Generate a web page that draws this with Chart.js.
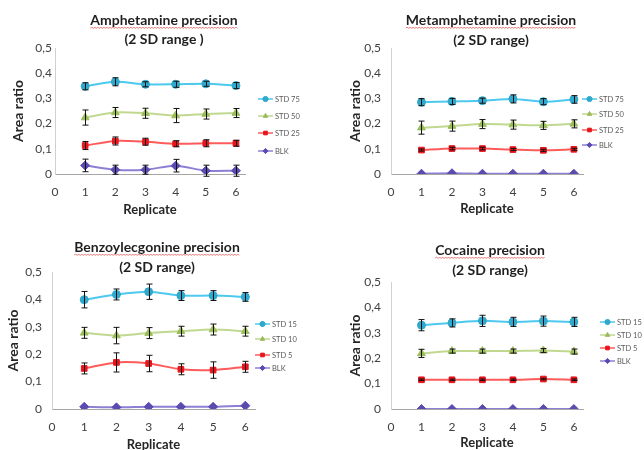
<!DOCTYPE html>
<html>
<head>
<meta charset="utf-8">
<title>Precision charts</title>
<script src="https://cdn.jsdelivr.net/npm/chart.js@4.4.1/dist/chart.umd.min.js"></script>
<style>
  html, body { margin: 0; padding: 0; background: #fff; }
  #wrap { position: relative; width: 644px; height: 450px; overflow: hidden; }
  canvas { position: absolute; }
</style>
</head>
<body>
<div id="wrap">
  <canvas id="amph" width="322" height="225" style="left:0;top:0"></canvas>
  <canvas id="meth" width="322" height="225" style="left:322px;top:0"></canvas>
  <canvas id="benz" width="322" height="225" style="left:0;top:225px"></canvas>
  <canvas id="coca" width="322" height="225" style="left:322px;top:225px"></canvas>
</div>
<script>
// shared axis stuff
var replicates = [1, 2, 3, 4, 5, 6];
var xTickLabels = ['0', '1', '2', '3', '4', '5', '6'];
var yTickLabels = ['0', '0,1', '0,2', '0,3', '0,4', '0,5'];

// Amphetamine
var amphNames = ['STD 75', 'STD 50', 'STD 25', 'BLK'];
var amphStd75 = [0.348, 0.366, 0.356, 0.356, 0.358, 0.351];
var amphStd75Err = [0.014, 0.016, 0.010, 0.012, 0.010, 0.012];
var amphStd50 = [0.224, 0.244, 0.241, 0.232, 0.238, 0.242];
var amphStd50Err = [0.030, 0.020, 0.020, 0.028, 0.020, 0.018];
var amphStd25 = [0.113, 0.131, 0.128, 0.120, 0.122, 0.122];
var amphStd25Err = [0.016, 0.016, 0.014, 0.012, 0.014, 0.012];
var amphBlk = [0.034, 0.017, 0.017, 0.033, 0.013, 0.013];
var amphBlkErr = [0.025, 0.018, 0.018, 0.025, 0.022, 0.022];

// Metamphetamine
var methNames = ['STD 75', 'STD 50', 'STD 25', 'BLK'];
var methStd75 = [0.285, 0.288, 0.291, 0.298, 0.287, 0.296];
var methStd75Err = [0.014, 0.012, 0.010, 0.016, 0.012, 0.015];
var methStd50 = [0.184, 0.190, 0.198, 0.196, 0.193, 0.199];
var methStd50Err = [0.026, 0.020, 0.018, 0.018, 0.016, 0.016];
var methStd25 = [0.095, 0.101, 0.101, 0.097, 0.094, 0.098];
var methStd25Err = [0.004, 0.005, 0.005, 0.004, 0.004, 0.004];
var methBlk = [0.001, 0.003, 0.001, 0.001, 0.001, 0.001];
var methBlkErr = [0, 0, 0, 0, 0, 0];

// Benzoylecgonine
var benzNames = ['STD 15', 'STD 10', 'STD 5', 'BLK'];
var benzStd15 = [0.399, 0.418, 0.428, 0.414, 0.414, 0.409];
var benzStd15Err = [0.030, 0.020, 0.028, 0.018, 0.018, 0.016];
var benzStd10 = [0.278, 0.268, 0.277, 0.284, 0.290, 0.284];
var benzStd10Err = [0.020, 0.030, 0.020, 0.018, 0.020, 0.018];
var benzStd5 = [0.148, 0.170, 0.166, 0.145, 0.142, 0.154];
var benzStd5Err = [0.020, 0.035, 0.030, 0.020, 0.030, 0.020];
var benzBlk = [0.008, 0.006, 0.008, 0.008, 0.008, 0.012];
var benzBlkErr = [0, 0, 0, 0, 0, 0];

// Cocaine
var cocaNames = ['STD 15', 'STD 10', 'STD 5', 'BLK'];
var cocaStd15 = [0.330, 0.339, 0.347, 0.343, 0.346, 0.343];
var cocaStd15Err = [0.022, 0.016, 0.022, 0.018, 0.020, 0.018];
var cocaStd10 = [0.219, 0.228, 0.228, 0.228, 0.230, 0.226];
var cocaStd10Err = [0.016, 0.008, 0.008, 0.008, 0.008, 0.010];
var cocaStd5 = [0.115, 0.115, 0.115, 0.115, 0.118, 0.115];
var cocaStd5Err = [0.003, 0.003, 0.003, 0.003, 0.003, 0.003];
var cocaBlk = [0, 0, 0, 0, 0, 0];
var cocaBlkErr = [0, 0, 0, 0, 0, 0];

// look of the 4 series (high, mid, low, blank)
var seriesStyles = [
  { line: '#4dc8ef', marker: '#2fa8cc', point: 'circle', r: 4 },
  { line: '#c0d890', marker: '#9bbb59', point: 'triangle', r: 4.5 },
  { line: '#ff5b5b', marker: '#e8141c', point: 'rect', r: 4 },
  { line: '#8b80d4', marker: '#5c4ab0', point: 'rectRot', r: 4.5 }
];

var W = 322, H = 225;

var errorBars = {
  id: 'errorBars',
  afterDatasetsDraw: function (chart) {
    var ctx = chart.ctx, ys = chart.scales.y;
    ctx.save();
    ctx.strokeStyle = '#111';
    ctx.lineWidth = 1;
    chart.data.datasets.forEach(function (ds, k) {
      var meta = chart.getDatasetMeta(k);
      meta.data.forEach(function (pt, i) {
        var e = ds.errorBars[i];
        if (!e) return;
        var v = ds.data[i].y;
        var y1 = ys.getPixelForValue(v + e), y2 = ys.getPixelForValue(v - e);
        var x = Math.round(pt.x) + 0.5;
        ctx.beginPath();
        ctx.moveTo(x, y1); ctx.lineTo(x, y2);
        ctx.moveTo(x - 3, y1); ctx.lineTo(x + 3, y1);
        ctx.moveTo(x - 3, y2); ctx.lineTo(x + 3, y2);
        ctx.stroke();
      });
    });
    ctx.restore();
  }
};

var sideLegend = {
  id: 'sideLegend',
  afterDraw: function (chart, args, opts) {
    var ctx = chart.ctx;
    ctx.save();
    ctx.font = '7.5px Lato';
    ctx.textBaseline = 'middle';
    ctx.textAlign = 'left';
    chart.data.datasets.forEach(function (ds, k) {
      var y = opts.ys[k], x = opts.x;
      ctx.strokeStyle = ds.borderColor;
      ctx.lineWidth = 1.5;
      ctx.beginPath();
      ctx.moveTo(x - 17, y); ctx.lineTo(x - 2, y);
      ctx.stroke();
      ctx.fillStyle = ds.pointBackgroundColor;
      ctx.strokeStyle = ds.pointBorderColor;
      ctx.lineWidth = 1;
      Chart.helpers.drawPoint(ctx, { pointStyle: ds.pointStyle, rotation: 0, radius: 2.6, borderWidth: 1 }, x - 9.5, y);
      ctx.fillStyle = '#595959';
      ctx.fillText(ds.label, x, y + 0.5);
    });
    ctx.restore();
  }
};

// red spell-check squiggle under the first title line
var squiggle = {
  id: 'squiggle',
  afterDraw: function (chart, args, opts) {
    var ctx = chart.ctx;
    ctx.save();
    ctx.font = 'bold 14px Lato';
    var w = ctx.measureText(opts.text).width;
    var x0 = opts.cx - w / 2, x1 = opts.cx + w / 2, y = opts.y;
    ctx.strokeStyle = 'rgba(225,60,60,0.85)';
    ctx.lineWidth = 0.8;
    ctx.beginPath();
    ctx.moveTo(x0, y);
    var up = true;
    for (var x = x0 + 1.5; x <= x1; x += 1.5) {
      ctx.lineTo(x, up ? y - 1 : y + 0.5);
      up = !up;
    }
    ctx.stroke();
    ctx.restore();
  }
};

function makeChart(id, g, titleLines, names, values, errors) {
  var pl = 0, pr = 0;
  if (g.titleCX >= W / 2) pl = 2 * (g.titleCX - W / 2); else pr = 2 * (W / 2 - g.titleCX);
  var titleLH = g.titleLH;
  var titlePadTop = g.titleY - titleLH / 2;
  var titlePadBottom = g.top - titlePadTop - 2 * titleLH;

  var datasets = names.map(function (name, k) {
    var st = seriesStyles[k];
    return {
      label: name,
      data: replicates.map(function (r, i) { return { x: r, y: values[k][i] }; }),
      errorBars: errors[k],
      borderColor: st.line,
      borderWidth: 2,
      tension: 0.25,
      pointStyle: st.point,
      pointRadius: st.r,
      pointBackgroundColor: st.marker,
      pointBorderColor: st.marker,
      pointBorderWidth: 1
    };
  });

  return new Chart(document.getElementById(id), {
    type: 'line',
    data: { datasets: datasets },
    options: {
      responsive: false,
      animation: false,
      events: [],
      layout: { padding: { left: pl, right: pr, top: 0, bottom: 0 } },
      plugins: {
        legend: { display: false },
        tooltip: { enabled: false },
        title: {
          display: true,
          text: titleLines,
          color: '#1f1f1f',
          font: { family: 'Lato', size: 14, weight: 'bold', lineHeight: titleLH / 14 },
          padding: { top: titlePadTop, bottom: titlePadBottom }
        },
        sideLegend: { x: g.legendX, ys: g.legendY },
        squiggle: { text: titleLines[0], cx: g.titleCX, y: g.titleY + 8 }
      },
      scales: {
        x: {
          type: 'linear',
          min: 0,
          max: g.xMax,
          afterFit: function (s) { s.height = H - g.bottom; },
          grid: { display: false, drawTicks: false },
          border: { display: true, color: '#a6a6a6', width: 1 },
          ticks: {
            stepSize: 1,
            includeBounds: false,
            padding: 11,
            color: '#404040',
            font: { family: 'Lato', size: 12 },
            callback: function (v, i) { return xTickLabels[i] !== undefined ? xTickLabels[i] : ''; }
          },
          title: {
            display: true,
            text: 'Replicate',
            color: '#262626',
            font: { family: 'Lato', size: 13, weight: 'bold', lineHeight: 1.2 },
            padding: { top: 0, bottom: (H - g.xTitleY) - 7.8 }
          }
        },
        y: {
          min: 0,
          max: 0.5,
          afterFit: function (s) { s.width = g.left - pl; },
          grid: { display: false, drawTicks: false },
          border: { display: true, color: '#d0d0d0', width: 1 },
          ticks: {
            stepSize: 0.1,
            padding: g.yTickPad,
            color: '#404040',
            font: { family: 'Lato', size: 12 },
            callback: function (v, i) { return yTickLabels[i]; }
          },
          title: {
            display: true,
            text: 'Area ratio',
            color: '#262626',
            font: { family: 'Lato', size: 14, weight: 'bold', lineHeight: 1.2 },
            padding: { top: g.yTitleX - pl - 8.4, bottom: 0 }
          }
        },
        side: {
          position: 'right',
          display: true,
          afterFit: function (s) { s.width = W - pr - g.right; },
          grid: { display: false, drawTicks: false },
          border: { display: false },
          ticks: { display: false }
        }
      }
    },
    plugins: [errorBars, sideLegend, squiggle]
  });
}

makeChart('amph',
  { left: 55, right: 245, top: 48, bottom: 174, xMax: 6.3, titleCX: 164, titleY: 20, titleLH: 19,
    yTitleX: 18, xTitleY: 210, yTickPad: 3, legendX: 275, legendY: [99, 116, 133, 151] },
  ['Amphetamine precision', '(2 SD range )'], amphNames,
  [amphStd75, amphStd50, amphStd25, amphBlk],
  [amphStd75Err, amphStd50Err, amphStd25Err, amphBlkErr]);

makeChart('meth',
  { left: 69, right: 261, top: 48, bottom: 174, xMax: 6.3, titleCX: 169, titleY: 20, titleLH: 20,
    yTitleX: 33, xTitleY: 209, yTickPad: 10, legendX: 277, legendY: [99, 114, 130, 145] },
  ['Metamphetamine precision', '(2 SD range)'], methNames,
  [methStd75, methStd50, methStd25, methBlk],
  [methStd75Err, methStd50Err, methStd25Err, methBlkErr]);

makeChart('benz',
  { left: 52, right: 255, top: 47, bottom: 184, xMax: 6.3, titleCX: 157, titleY: 22, titleLH: 20,
    yTitleX: 13, xTitleY: 220, yTickPad: 10, legendX: 272, legendY: [99, 114, 130, 143] },
  ['Benzoylecgonine precision', '(2 SD range)'], benzNames,
  [benzStd15, benzStd10, benzStd5, benzBlk],
  [benzStd15Err, benzStd10Err, benzStd5Err, benzBlkErr]);

makeChart('coca',
  { left: 69, right: 261, top: 57, bottom: 184, xMax: 6.3, titleCX: 168, titleY: 25, titleLH: 20,
    yTitleX: 33, xTitleY: 218, yTickPad: 10, legendX: 295, legendY: [97, 110, 123, 136] },
  ['Cocaine precision', '(2 SD range)'], cocaNames,
  [cocaStd15, cocaStd10, cocaStd5, cocaBlk],
  [cocaStd15Err, cocaStd10Err, cocaStd5Err, cocaBlkErr]);
</script>
</body>
</html>
